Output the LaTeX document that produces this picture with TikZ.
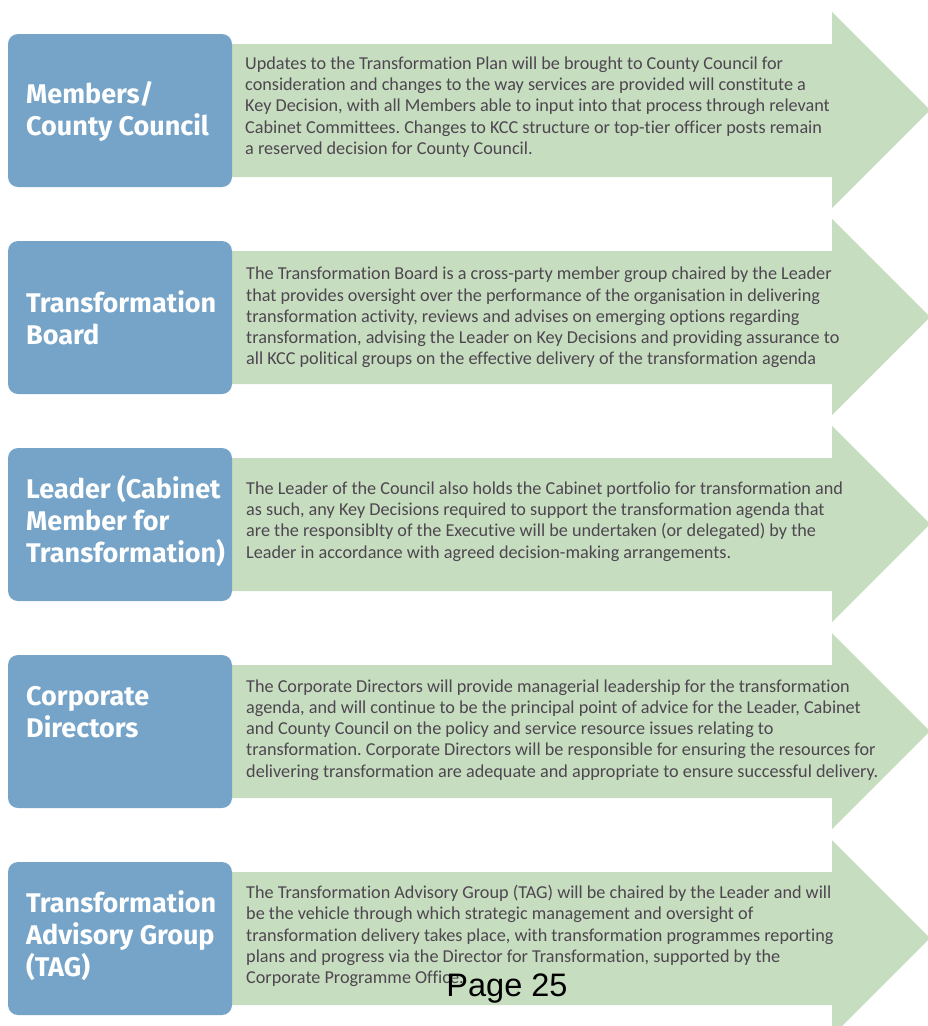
\documentclass[tikz,border=0pt]{standalone}
\usepackage{fontspec}
\setmainfont{Carlito}[Ligatures=NoCommon]
\newfontfamily\headfont{Fira Sans}
\newfontfamily\pagefont{Liberation Sans}
\definecolor{bandgreen}{RGB}{198,221,191}
\definecolor{roleblue}{RGB}{117,164,200}
\definecolor{bodytext}{RGB}{78,70,80}
\frenchspacing
\begin{document}
\begin{tikzpicture}[x=1pt,y=-1pt,
  arrowband/.style={fill=bandgreen,draw=none},
  rolebox/.style={fill=roleblue,draw=none,rounded corners=10pt,
    minimum width=224pt,minimum height=153pt,inner sep=0pt},
  roletitle/.style={anchor=west,align=left,text=white,inner sep=0pt,
    font=\headfont\bfseries\fontsize{27}{32}\selectfont},
  roletext/.style={anchor=west,align=left,text=bodytext,inner sep=0pt,
    font=\fontsize{18.2}{21.2}\selectfont}]
\useasboundingbox (0,0) rectangle (928,1026);
\clip (0,0) rectangle (928,1026);
\fill[white] (0,0) rectangle (928,1026);

% one row: green arrow band, blue role box, title, description
\newcommand{\bandshape}{%
  \fill[arrowband] (230,44) -- (832,44) -- (832,12) -- (930,110)
    -- (832,208) -- (832,177) -- (230,177) -- cycle;}

% Row 1
\begin{scope}[shift={(0,0)}]
  \bandshape
  \node[rolebox] (box1) at (120,110.5) {};
  \node[roletitle] (title1) at (26,111) {Members/\\County Council};
  \node[roletext] (text1) at (245,107) {Updates to the Transformation Plan will be brought to County Council for\\
consideration and changes to the way services are provided will constitute a\\
Key Decision, with all Members able to input into that process through relevant\\
Cabinet Committees. Changes to KCC structure or top-tier officer posts remain\\
a reserved decision for County Council.};
\end{scope}

% Row 2
\begin{scope}[shift={(0,207)}]
  \bandshape
  \node[rolebox] (box2) at (120,110.5) {};
  \node[roletitle] (title2) at (26,111) {Transformation\\Board};
  \node[roletext] (text2) at (246,110.5) {The Transformation Board is a cross-party member group chaired by the Leader\\
that provides oversight over the performance of the organisation in delivering\\
transformation activity, reviews and advises on emerging options regarding\\
transformation, advising the Leader on Key Decisions and providing assurance to\\
all KCC political groups on the effective delivery of the transformation agenda};
\end{scope}

% Row 3
\begin{scope}[shift={(0,414)}]
  \bandshape
  \node[rolebox] (box3) at (120,110.5) {};
  \node[roletitle] (title3) at (26,107) {Leader (Cabinet\\Member for\\Transformation)};
  \node[roletext] (text3) at (246,107.5) {The Leader of the Council also holds the Cabinet portfolio for transformation and\\
as such, any Key Decisions required to support the transformation agenda that\\
are the responsiblty of the Executive will be undertaken (or delegated) by the\\
Leader in accordance with agreed decision-making arrangements.};
\end{scope}

% Row 4
\begin{scope}[shift={(0,621)}]
  \bandshape
  \node[rolebox] (box4) at (120,110.5) {};
  \node[roletitle] (title4) at (26,91) {Corporate\\Directors};
  \node[roletext] (text4) at (246,109) {The Corporate Directors will provide managerial leadership for the transformation\\
agenda, and will continue to be the principal point of advice for the Leader, Cabinet\\
and County Council on the policy and service resource issues relating to\\
transformation. Corporate Directors will be responsible for ensuring the resources for\\
delivering transformation are adequate and appropriate to ensure successful delivery.};
\end{scope}

% Row 5
\begin{scope}[shift={(0,828)}]
  \bandshape
  \node[rolebox] (box5) at (120,110.5) {};
  \node[roletitle] (title5) at (26,108) {Transformation\\Advisory Group\\(TAG)};
  \node[roletext] (text5) at (246,108) {The Transformation Advisory Group (TAG) will be chaired by the Leader and will\\
be the vehicle through which strategic management and oversight of\\
transformation delivery takes place, with transformation programmes reporting\\
plans and progress via the Director for Transformation, supported by the\\
Corporate Programme Office.};
\end{scope}

% page number stamped over the last row
\node[font=\pagefont\fontsize{32.5}{38}\selectfont,text=black,inner sep=0pt]
  (pagenum) at (507,989) {Page 25};
\end{tikzpicture}
\end{document}
